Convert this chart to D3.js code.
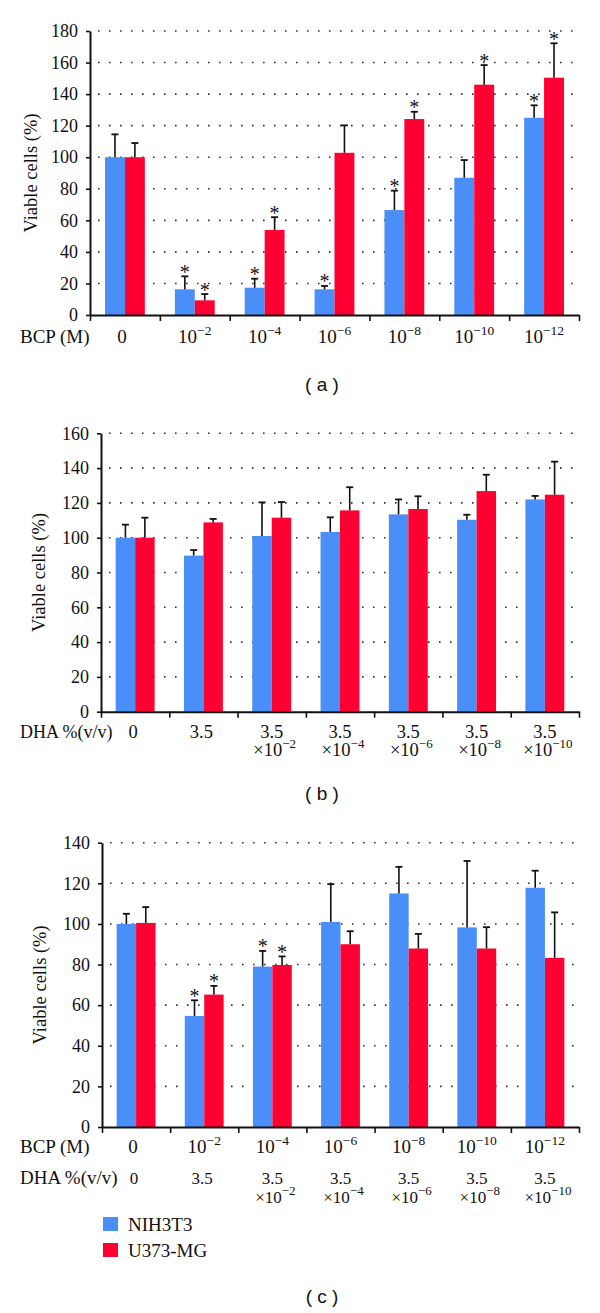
<!DOCTYPE html>
<html>
<head>
<meta charset="utf-8">
<script src="https://cdn.jsdelivr.net/npm/d3@7/dist/d3.min.js"></script>
<style>
  html, body { margin: 0; padding: 0; background: #fff; }
  svg { display: block; }
  .sf { font-family: "Liberation Serif", "Times New Roman", "DejaVu Serif", serif; }
  .ss { font-family: "Liberation Sans", Arial, "DejaVu Sans", sans-serif; }
</style>
</head>
<body>
<svg id="chart" width="600" height="1313"></svg>
<script>
// ---------- DATA ----------
const series = ["NIH3T3", "U373-MG"];
const seriesColors = ["#4a8ff7", "#ff0033"];
const bcpExp = [null, "−2", "−4", "−6", "−8", "−10", "−12"];
const dhaExp = [null, null, "−2", "−4", "−6", "−8", "−10"];
const dhaBase = ["0", "3.5", "3.5", "3.5", "3.5", "3.5", "3.5"];

// Panel (a): BCP
const aNIH   = [100, 16.3, 17.3, 16.3, 66.5, 87.0, 125.0];
const aNIHe  = [14.5, 8.2, 5.7, 2.1, 12.3, 11.2, 7.9];
const aU373  = [100, 9.3, 53.9, 102.8, 124.2, 146.0, 150.4];
const aU373e = [9.0, 4.0, 8.1, 17.4, 4.6, 12.4, 21.8];
const aStarNIH  = [0, 1, 1, 1, 1, 0, 1];
const aStarU373 = [0, 1, 1, 0, 1, 1, 1];

// Panel (b): DHA
const bNIH   = [100, 89.7, 101.0, 103.3, 113.4, 110.3, 122.0];
const bNIHe  = [7.5, 3.2, 19.3, 8.4, 8.6, 2.9, 2.0];
const bU373  = [100, 108.8, 111.5, 115.7, 116.5, 126.8, 124.7];
const bU373e = [11.5, 2.0, 9.0, 13.3, 7.3, 9.4, 19.0];
const bStarNIH  = [0, 0, 0, 0, 0, 0, 0];
const bStarU373 = [0, 0, 0, 0, 0, 0, 0];

// Panel (c): BCP + DHA
const cNIH   = [100, 54.7, 79.0, 101.0, 115.0, 98.3, 117.8];
const cNIHe  = [5.0, 7.7, 7.7, 18.6, 13.1, 32.7, 8.4];
const cU373  = [100.5, 65.2, 79.8, 90.0, 87.9, 87.9, 83.3];
const cU373e = [7.8, 4.3, 4.2, 6.4, 7.2, 10.5, 22.4];
const cStarNIH  = [0, 1, 1, 0, 0, 0, 0];
const cStarU373 = [0, 1, 1, 0, 0, 0, 0];

const yMaxA = 180, yMaxB = 160, yMaxC = 140;
const yTickStep = 20;

// ---------- DRAW ----------
const svg = d3.select("#chart");
const cats = d3.range(7);
const FS = 19;

function panel(cfg) {
  const g = svg.append("g");
  const x0 = d3.scaleBand().domain(cats).range([cfg.left, cfg.right]).padding(0);
  const bw = x0.bandwidth();
  const x1 = d3.scaleBand().domain(series).range([bw * 0.215, bw * 0.785]).padding(0);
  const y = d3.scaleLinear().domain([0, cfg.yMax]).range([cfg.bottom, cfg.top]);
  const ticks = d3.range(0, cfg.yMax + 1, yTickStep);

  // dotted grid
  g.append("g").selectAll("line").data(ticks.filter(t => t > 0)).join("line")
    .attr("x1", cfg.left + 8).attr("x2", cfg.right)
    .attr("y1", d => y(d)).attr("y2", d => y(d))
    .attr("stroke", "#333").attr("stroke-width", 1.6)
    .attr("stroke-dasharray", "1.6,9.4");

  // bars
  const rows = cats.map(i => ({
    i,
    vals: [
      { s: series[0], v: cfg.nih[i], e: cfg.nihE[i], star: cfg.starNIH[i], c: seriesColors[0] },
      { s: series[1], v: cfg.u373[i], e: cfg.u373E[i], star: cfg.starU373[i], c: seriesColors[1] }
    ]
  }));
  const grp = g.append("g").selectAll("g").data(rows).join("g")
    .attr("transform", d => `translate(${x0(d.i)},0)`);
  grp.selectAll("rect").data(d => d.vals).join("rect")
    .attr("x", d => x1(d.s)).attr("width", x1.bandwidth())
    .attr("y", d => y(d.v)).attr("height", d => y(0) - y(d.v))
    .attr("fill", d => d.c);
  // error bars
  const eb = grp.selectAll("g.eb").data(d => d.vals).join("g").attr("class", "eb");
  eb.append("line")
    .attr("x1", d => x1(d.s) + x1.bandwidth() / 2).attr("x2", d => x1(d.s) + x1.bandwidth() / 2)
    .attr("y1", d => y(d.v)).attr("y2", d => y(d.v + d.e))
    .attr("stroke", "#111").attr("stroke-width", 1.6);
  eb.append("line")
    .attr("x1", d => x1(d.s) + x1.bandwidth() / 2 - 3.5).attr("x2", d => x1(d.s) + x1.bandwidth() / 2 + 3.5)
    .attr("y1", d => y(d.v + d.e)).attr("y2", d => y(d.v + d.e))
    .attr("stroke", "#111").attr("stroke-width", 1.8);
  eb.filter(d => d.star).append("text").attr("class", "sf")
    .attr("x", d => x1(d.s) + x1.bandwidth() / 2)
    .attr("y", d => y(d.v + d.e) + 2.5)
    .attr("text-anchor", "middle")
    .attr("font-size", 20).attr("fill", "#111")
    .text("*");

  // y axis
  const ya = g.append("g").attr("transform", `translate(${cfg.left},0)`)
    .call(d3.axisLeft(y).tickValues(ticks).tickSize(4).tickSizeOuter(0).tickPadding(8));
  ya.attr("font-family", null).attr("font-size", null);
  ya.select(".domain").attr("stroke", "#111").attr("stroke-width", 2);
  ya.selectAll(".tick line").attr("stroke", "#111").attr("stroke-width", 1.6);
  ya.selectAll(".tick text").attr("class", "sf").attr("font-size", 18).attr("fill", "#111");

  // x axis with boundary ticks
  const xb = d3.scaleLinear().domain([0, 7]).range([cfg.left, cfg.right]);
  const xa = g.append("g").attr("transform", `translate(0,${cfg.bottom})`)
    .call(d3.axisBottom(xb).tickValues(d3.range(0, 8)).tickFormat("").tickSize(6).tickSizeOuter(0));
  xa.select(".domain").attr("stroke", "#111").attr("stroke-width", 2);
  xa.selectAll(".tick line").attr("stroke", "#111").attr("stroke-width", 1.6);

  // y label
  g.append("text").attr("class", "sf")
    .attr("transform", `translate(${cfg.yLabelX},${(cfg.top + cfg.bottom) / 2}) rotate(-90)`)
    .attr("text-anchor", "middle")
    .attr("font-size", 18.5).attr("fill", "#111")
    .text("Viable cells (%)");

  // category label rows
  cfg.rows.forEach(r => {
    const fs = r.fs || FS;
    g.append("text").attr("class", "sf").attr("x", 20).attr("y", r.y)
      .attr("font-size", r.tfs || FS).attr("fill", "#111").text(r.title);
    if (r.type === "bcp") {
      cats.forEach(i => {
        const t = g.append("text").attr("class", "sf").attr("x", x0(i) + bw / 2 + (bcpExp[i] ? 0 : -3)).attr("y", r.y)
          .attr("text-anchor", "middle")
          .attr("font-size", fs).attr("fill", "#111");
        if (bcpExp[i]) {
          t.append("tspan").text("10");
          t.append("tspan").attr("dy", -8.5).attr("font-size", 13.5).text(bcpExp[i]);
        } else {
          t.text("0");
        }
      });
    } else {
      cats.forEach(i => {
        g.append("text").attr("class", "sf").attr("x", x0(i) + bw / 2 + (dhaExp[i] ? 0 : -2)).attr("y", r.y)
          .attr("text-anchor", "middle")
          .attr("font-size", fs).attr("fill", "#111")
          .text(dhaBase[i]);
        if (dhaExp[i]) {
          const t = g.append("text").attr("class", "sf").attr("x", x0(i) + bw / 2 + 3).attr("y", r.y + r.dy2)
            .attr("text-anchor", "middle")
            .attr("font-size", fs).attr("fill", "#111");
          t.append("tspan").text("×10");
          t.append("tspan").attr("dy", -8).attr("font-size", 13).text(dhaExp[i]);
        }
      });
    }
  });

  // panel title
  g.append("text").attr("class", "ss").attr("x", 322).attr("y", cfg.titleY)
    .attr("text-anchor", "middle")
    .attr("font-size", 19).attr("fill", "#111")
    .attr("xml:space", "preserve")
    .text("( " + cfg.title + " )");
  return g;
}

panel({
  left: 90, right: 579, top: 31, bottom: 315, yMax: yMaxA, yLabelX: 37,
  nih: aNIH, nihE: aNIHe, u373: aU373, u373E: aU373e, starNIH: aStarNIH, starU373: aStarU373,
  rows: [{ type: "bcp", title: "BCP (M)", y: 343 }],
  title: "a", titleY: 391
});
panel({
  left: 101, right: 579, top: 433.3, bottom: 711.7, yMax: yMaxB, yLabelX: 45,
  nih: bNIH, nihE: bNIHe, u373: bU373, u373E: bU373e, starNIH: bStarNIH, starU373: bStarU373,
  rows: [{ type: "dha", title: "DHA %(v/v)", y: 738, dy2: 18, fs: 18.5, tfs: 18 }],
  title: "b", titleY: 800
});
panel({
  left: 102, right: 579, top: 842.7, bottom: 1127, yMax: yMaxC, yLabelX: 46,
  nih: cNIH, nihE: cNIHe, u373: cU373, u373E: cU373e, starNIH: cStarNIH, starU373: cStarU373,
  rows: [{ type: "bcp", title: "BCP (M)", y: 1153 }, { type: "dha", title: "DHA %(v/v)", y: 1184, dy2: 19, fs: 17 }],
  title: "c", titleY: 1303
});

// legend
const leg = svg.append("g").selectAll("g").data(series).join("g")
  .attr("transform", (d, i) => `translate(103,${1217 + i * 26})`);
leg.append("rect").attr("width", 15).attr("height", 14).attr("fill", (d, i) => seriesColors[i]);
leg.append("text").attr("class", "sf").attr("x", 25).attr("y", 13.5)
  .attr("font-size", 19).attr("fill", "#111")
  .text(d => d);
</script>
</body>
</html>
